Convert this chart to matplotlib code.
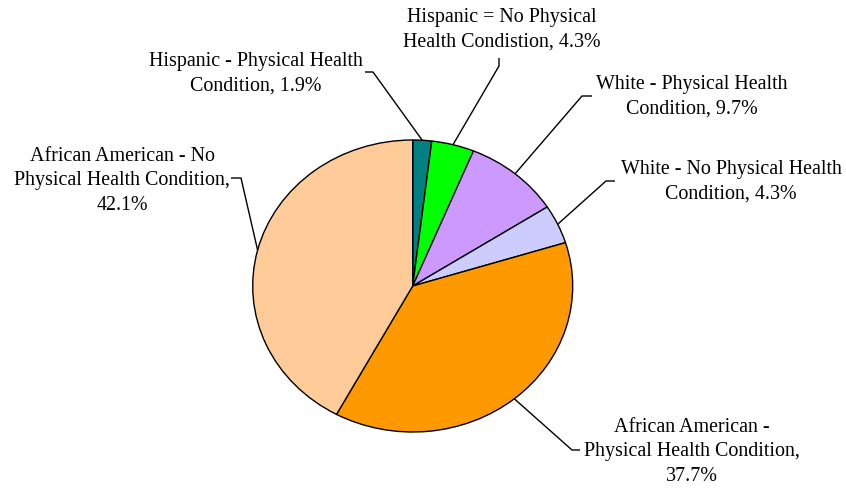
import matplotlib
matplotlib.use("Agg")
import matplotlib.pyplot as plt
import numpy as np

labels = ["Hispanic - Physical Health\nCondition, 1.9%",
          "Hispanic = No Physical\nHealth Condistion, 4.3%",
          "White - Physical Health\nCondition, 9.7%",
          "White - No Physical Health\nCondition, 4.3%",
          "African American -\nPhysical Health Condition,\n37.7%",
          "African American - No\nPhysical Health Condition,\n42.1%"]
values = [1.9, 4.3, 9.7, 4.3, 37.7, 42.1]
colors = ["#008080", "#00FF00", "#CC99FF", "#CCCCFF", "#FF9900", "#FFCC99"]

W, H = 846, 489
CX, CY, RX, RY = 412.7, 287.0, 160.0, 146.0

fig = plt.figure(figsize=(W / 100, H / 100), dpi=100)
ax = fig.add_axes([0, 0, 1, 1])
ax.pie(values, colors=colors, startangle=90, counterclock=False,
       wedgeprops=dict(edgecolor="black", linewidth=1.0))
ax.set_aspect("auto")
ax.set_xlim(-CX / RX, (W - CX) / RX)
ax.set_ylim(-(H - CY) / RY, CY / RY)
ax.axis("off")


def px(x, y):
    return (x - CX) / RX, (CY - y) / RY

# layout: (elbow px, end px, text center px)
layout = [
    ((373, 73), (365, 73), (256, 74)),
    ((499, 67), (499, 59), (502, 30)),
    ((582, 97), (592, 97), (692, 97)),
    ((606, 182), (615, 182), (731, 182)),
    ((572, 451), (580, 451), (692, 452)),
    ((241, 179), (231, 179), (122, 181)),
]

cum = np.cumsum([0] + values)
total = sum(values)
for i, (lab, (el, en, tc)) in enumerate(zip(labels, layout)):
    mid = 90 - 360 * (cum[i] + values[i] / 2) / total
    sx, sy = np.cos(np.radians(mid)), np.sin(np.radians(mid))
    ex, ey = px(*el)
    nx, ny = px(*en)
    ax.plot([sx, ex, nx], [sy, ey, ny], color="black", lw=1.0, solid_capstyle="butt")
    tx, ty = px(*tc)
    ax.text(tx, ty, lab, ha="center", va="center", fontsize=14.4,
            family="Liberation Serif", linespacing=1.4)

fig.savefig("out.png", dpi=100)
